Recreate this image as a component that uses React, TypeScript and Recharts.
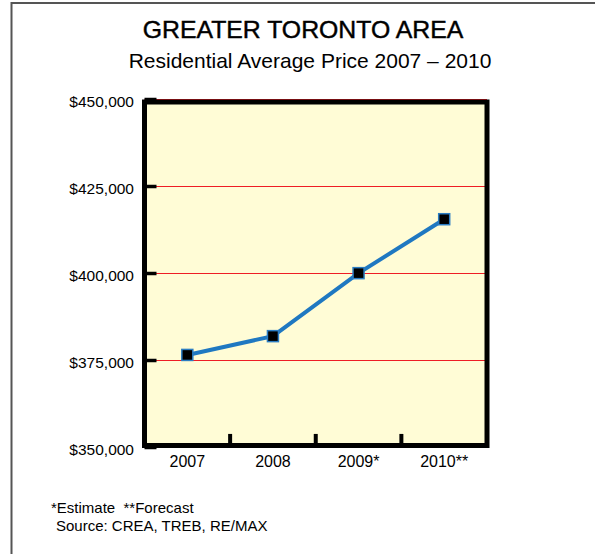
import React from 'react';
import { LineChart, Line, XAxis, YAxis, CartesianGrid, ReferenceLine, ReferenceArea } from 'recharts';

const CATEGORIES = ['2007', '2008', '2009*', '2010**'];
const PRICES = [376600, 382000, 400100, 415600];
const Y_TICKS = [350000, 375000, 400000, 425000, 450000];
const Y_DOMAIN: [number, number] = [350000, 450000];
const FRAME_Y: [number, number] = [350600, 449300];
const TICK_TOP = 353900;

const TITLE = 'GREATER TORONTO AREA';
const SUBTITLE = 'Residential Average Price 2007 \u2013 2010';
const NOTE1 = '*Estimate \u00a0**Forecast';
const NOTE2 = 'Source: CREA, TREB, RE/MAX';

const data = CATEGORIES.map((c, i) => ({ year: c, price: PRICES[i] }));
const boundaries = CATEGORIES.slice(1);

const FONT = '"Liberation Sans", Arial, Helvetica, sans-serif';

const fmt = (v: number) => '$' + v.toLocaleString('en-US');

const SquareDot = (props: any) => {
  const { cx, cy, index } = props;
  if (cx == null || cy == null) return null;
  return (
    <rect
      key={`dot-${index}`}
      x={cx - 5.5}
      y={cy - 5.5}
      width={11}
      height={11}
      fill="#000"
      stroke="#2b7cc2"
      strokeWidth={1.5}
    />
  );
};

export default function App() {
  React.useEffect(() => {
    document.body.style.margin = '0';
  }, []);
  return (
    <div style={{ position: 'relative', width: 595, height: 554, background: '#fff', fontFamily: FONT }}>
      <LineChart
        width={595}
        height={554}
        data={data}
        margin={{ top: 99.5, right: 108, bottom: 76.5, left: 64.5 }}
      >
        <CartesianGrid
          vertical={false}
          horizontal
          stroke="#ee1c25"
          strokeWidth={1}
          fill="#fffcd6"
          fillOpacity={1}
        />
        <XAxis
          dataKey="year"
          scale="band"
          height={30}
          axisLine={false}
          tickLine={false}
          tickSize={0}
          tickMargin={8}
          interval={0}
          tick={{ fill: '#000', fontSize: 16, fontFamily: FONT }}
        />
        <YAxis
          type="number"
          domain={Y_DOMAIN}
          ticks={Y_TICKS}
          width={80}
          axisLine={false}
          tickLine={{ stroke: '#000', strokeWidth: 3.5 }}
          tickSize={-12}
          tickMargin={22.5}
          tickFormatter={fmt}
          tick={{ fill: '#000', fontSize: 15.5, fontFamily: FONT, dy: 1.5 }}
          interval={0}
        />
        <ReferenceArea
          y1={FRAME_Y[0]}
          y2={FRAME_Y[1]}
          fill="none"
          fillOpacity={0}
          stroke="#000"
          strokeWidth={5}
        />
        {boundaries.map((b) => (
          <ReferenceLine
            key={b}
            segment={[
              { x: b, y: FRAME_Y[0] },
              { x: b, y: TICK_TOP },
            ]}
            position="start"
            stroke="#000"
            strokeWidth={4}
          />
        ))}
        <Line
          type="linear"
          dataKey="price"
          stroke="#1f78c1"
          strokeWidth={4}
          dot={<SquareDot />}
          activeDot={false}
          isAnimationActive={false}
        />
      </LineChart>
      <svg
        width={595}
        height={554}
        style={{ position: 'absolute', left: 0, top: 0, pointerEvents: 'none' }}
      >
        <path d="M11.5,554 V3 H595" fill="none" stroke="#555" strokeWidth={2} />
        <text x={303} y={37.5} textAnchor="middle" fontSize={24.8} fontFamily={FONT} fill="#000" stroke="#000" strokeWidth={0.45}>
          {TITLE}
        </text>
        <text x={310} y={67.5} textAnchor="middle" fontSize={21} fontFamily={FONT} fill="#000">
          {SUBTITLE}
        </text>
        <text x={51} y={513} fontSize={15} fontFamily={FONT} fill="#000">
          {NOTE1}
        </text>
        <text x={56} y={531} fontSize={15} fontFamily={FONT} fill="#000">
          {NOTE2}
        </text>
      </svg>
    </div>
  );
}
